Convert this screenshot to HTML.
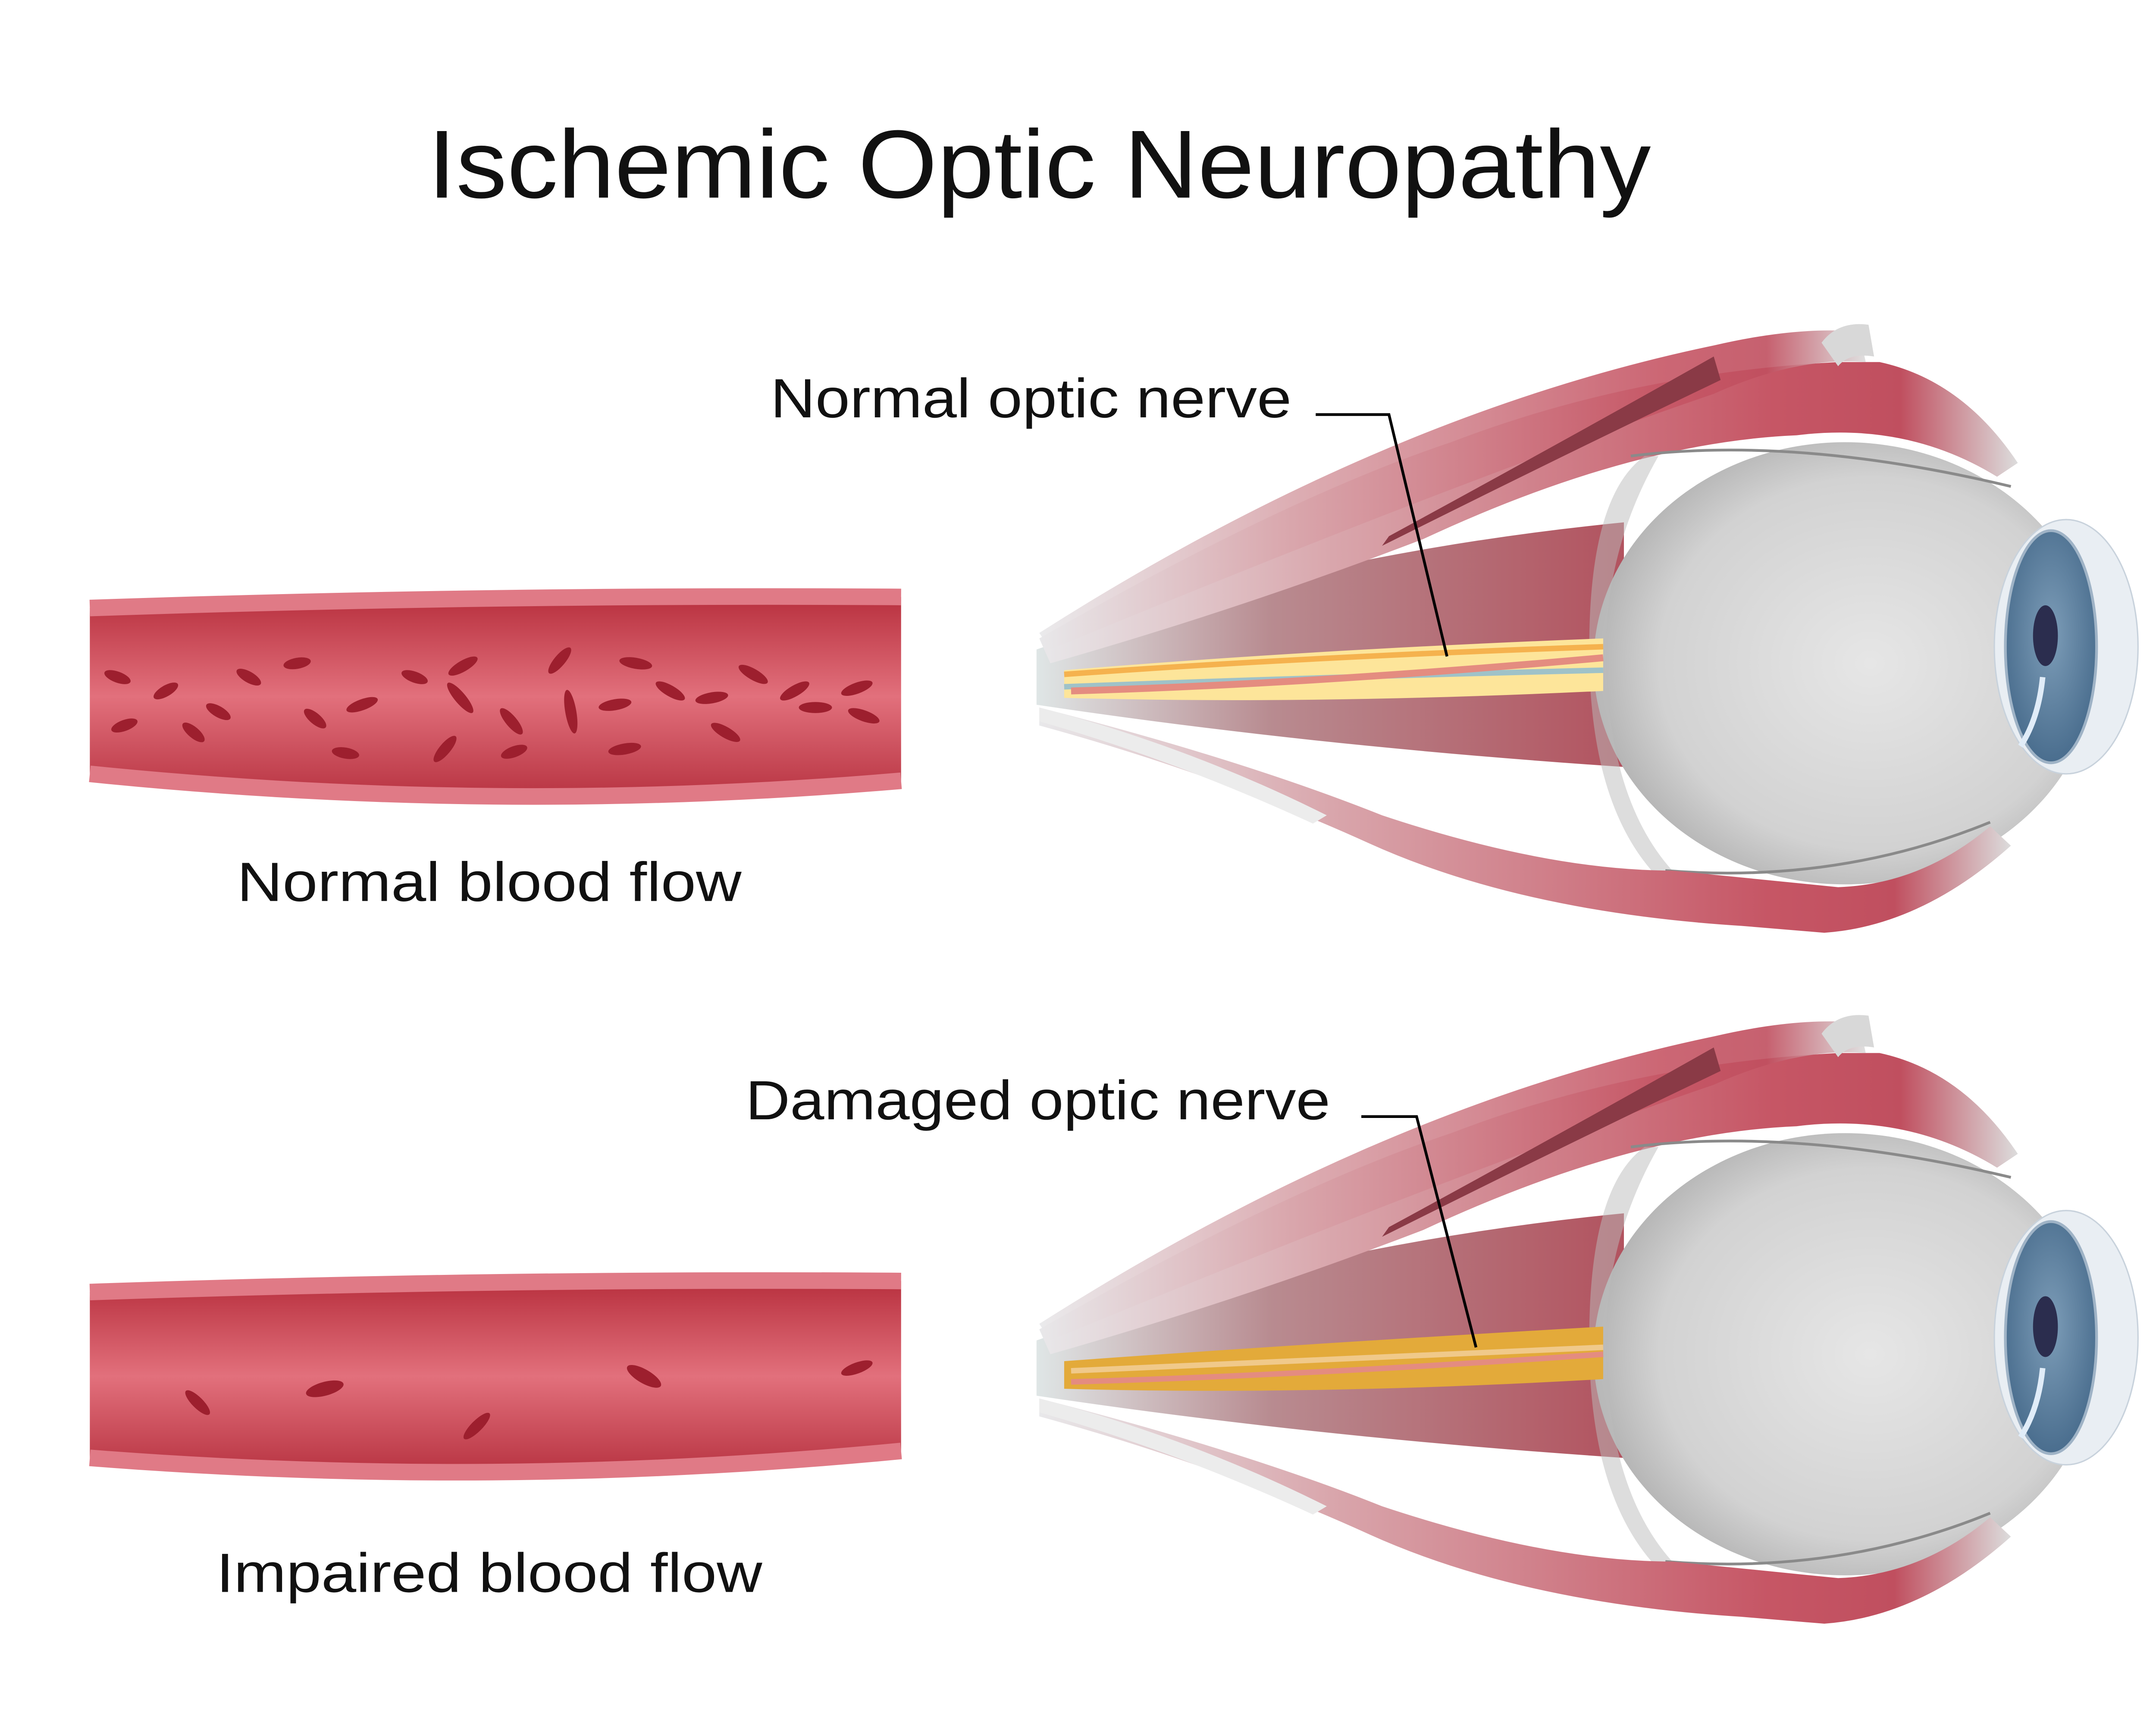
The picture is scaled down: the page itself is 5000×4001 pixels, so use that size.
<!DOCTYPE html>
<html><head><meta charset="utf-8"><style>
html,body{margin:0;padding:0;background:#fff;}
svg{display:block;}
text{font-family:"Liberation Sans",sans-serif;fill:#111;}
</style></head><body>
<svg width="5000" height="4001" viewBox="0 0 1560 1248.3" preserveAspectRatio="none" xmlns="http://www.w3.org/2000/svg">
<defs>
<linearGradient id="vessel" x1="0" y1="0" x2="0" y2="1">
<stop offset="0" stop-color="#b8303e"/><stop offset="0.5" stop-color="#e2707c"/><stop offset="1" stop-color="#b83442"/>
</linearGradient>
<radialGradient id="globe" cx="0.55" cy="0.5" r="0.6">
<stop offset="0" stop-color="#e6e6e6"/><stop offset="0.7" stop-color="#d2d2d2"/><stop offset="1" stop-color="#a9a9a9"/>
</radialGradient>
<linearGradient id="musc" x1="0" y1="0" x2="1" y2="0">
<stop offset="0" stop-color="#e8e8ea"/><stop offset="0.3" stop-color="#d9a6ac"/><stop offset="0.75" stop-color="#c65665"/><stop offset="0.88" stop-color="#c04f5f"/><stop offset="1" stop-color="#dcdcdc"/>
</linearGradient>
<linearGradient id="mid" x1="0" y1="0" x2="1" y2="0">
<stop offset="0" stop-color="#dfe6e6"/><stop offset="0.4" stop-color="#b88b90"/><stop offset="1" stop-color="#b2535f"/>
</linearGradient>
<radialGradient id="iris" cx="0.5" cy="0.45" r="0.6">
<stop offset="0" stop-color="#7d9db8"/><stop offset="1" stop-color="#45698a"/>
</radialGradient>
<g id="eye">
<!-- middle muscles -->
<path d="M750,470 Q950,400 1175,378 L1175,555 Q950,540 750,510 Z" fill="url(#mid)"/>
<!-- top muscle -->
<path d="M752,462 Q930,360 1050,320 Q1180,270 1330,262 L1360,262 Q1420,275 1460,335 L1445,345 Q1380,305 1300,315 Q1180,320 1030,390 Q900,440 760,480 Z" fill="url(#musc)"/>
<path d="M752,458 Q1000,300 1240,250 Q1300,236 1345,240 L1350,262 Q1300,258 1240,285 Q1050,350 760,470 Z" fill="url(#musc)" opacity="0.9"/>
<path d="M1240,258 L1245,275 Q1130,330 1000,395 L1005,388 Q1130,320 1240,258 Z" fill="#8a3a46"/>
<path d="M1318,248 Q1330,232 1352,235 L1356,258 Q1338,255 1330,265 Z" fill="#d8d8d8"/>
<!-- globe -->
<ellipse cx="1335" cy="480" rx="182" ry="160" fill="url(#globe)"/>
<path d="M1150,480 Q1148,360 1190,330 L1200,330 Q1160,400 1162,480 Q1165,580 1210,630 L1195,630 Q1152,580 1150,480 Z" fill="#bcbcbc" opacity="0.5"/>
<path d="M1180,330 Q1300,315 1455,352" stroke="#8a8a8a" stroke-width="2" fill="none"/>
<path d="M1205,630 Q1330,640 1440,595" stroke="#8a8a8a" stroke-width="2" fill="none"/>
<!-- bottom muscle -->
<path d="M752,512 Q900,550 1000,590 Q1120,630 1210,630 L1330,642 Q1390,640 1440,598 L1455,612 Q1390,670 1320,675 L1260,670 Q1100,660 990,610 Q880,560 752,525 Z" fill="url(#musc)"/>
<path d="M752,512 Q860,540 960,590 L950,596 Q850,550 752,522 Z" fill="#ececec"/>
<!-- cornea / iris -->
<ellipse cx="1495" cy="468" rx="52" ry="92" fill="#e9eef3" stroke="#c8d2dc"/>
<ellipse cx="1484" cy="468" rx="33" ry="84" fill="url(#iris)" stroke="#9fb3c6" stroke-width="2"/>
<ellipse cx="1480" cy="460" rx="9" ry="22" fill="#2b2d4e"/>
<path d="M1478,490 Q1475,520 1462,540" stroke="#e0ecf8" stroke-width="4" fill="none"/>
</g>
</defs>

<text x="752" y="143" font-size="70" text-anchor="middle" textLength="885" lengthAdjust="spacingAndGlyphs">Ischemic Optic Neuropathy</text>

<!-- vessel 1 -->
<path d="M65,440 Q360,430 652,432 L652,565 Q360,590 65,560 Z" fill="url(#vessel)"/>
<path d="M65,440 Q360,430 652,432" stroke="#e07a86" stroke-width="12" fill="none"/>
<path d="M65,560 Q360,590 652,565" stroke="#e07a86" stroke-width="12" fill="none"/>
<g fill="#9d1f2e">
<ellipse cx="85" cy="490" rx="10" ry="4" transform="rotate(20 85 490)"/>
<ellipse cx="120" cy="500" rx="10" ry="4" transform="rotate(-30 120 500)"/>
<ellipse cx="90" cy="525" rx="10" ry="4" transform="rotate(-20 90 525)"/>
<ellipse cx="140" cy="530" rx="10" ry="4" transform="rotate(40 140 530)"/>
<ellipse cx="180" cy="490" rx="10" ry="4" transform="rotate(30 180 490)"/>
<ellipse cx="158" cy="515" rx="10" ry="4" transform="rotate(30 158 515)"/>
<ellipse cx="215" cy="480" rx="10" ry="4" transform="rotate(-10 215 480)"/>
<ellipse cx="228" cy="520" rx="10" ry="4" transform="rotate(40 228 520)"/>
<ellipse cx="262" cy="510" rx="12" ry="4" transform="rotate(-20 262 510)"/>
<ellipse cx="250" cy="545" rx="10" ry="4" transform="rotate(10 250 545)"/>
<ellipse cx="300" cy="490" rx="10" ry="4" transform="rotate(20 300 490)"/>
<ellipse cx="335" cy="482" rx="12" ry="4" transform="rotate(-30 335 482)"/>
<ellipse cx="333" cy="505" rx="14" ry="4" transform="rotate(50 333 505)"/>
<ellipse cx="322" cy="542" rx="12" ry="4" transform="rotate(-50 322 542)"/>
<ellipse cx="370" cy="522" rx="12" ry="4" transform="rotate(50 370 522)"/>
<ellipse cx="372" cy="544" rx="10" ry="4" transform="rotate(-20 372 544)"/>
<ellipse cx="405" cy="478" rx="12" ry="4" transform="rotate(-50 405 478)"/>
<ellipse cx="413" cy="515" rx="16" ry="4" transform="rotate(80 413 515)"/>
<ellipse cx="445" cy="510" rx="12" ry="4" transform="rotate(-10 445 510)"/>
<ellipse cx="460" cy="480" rx="12" ry="4" transform="rotate(10 460 480)"/>
<ellipse cx="452" cy="542" rx="12" ry="4" transform="rotate(-10 452 542)"/>
<ellipse cx="485" cy="500" rx="12" ry="4" transform="rotate(30 485 500)"/>
<ellipse cx="515" cy="505" rx="12" ry="4" transform="rotate(-10 515 505)"/>
<ellipse cx="525" cy="530" rx="12" ry="4" transform="rotate(30 525 530)"/>
<ellipse cx="545" cy="488" rx="12" ry="4" transform="rotate(30 545 488)"/>
<ellipse cx="575" cy="500" rx="12" ry="4" transform="rotate(-30 575 500)"/>
<ellipse cx="590" cy="512" rx="12" ry="4"/>
<ellipse cx="620" cy="498" rx="12" ry="4" transform="rotate(-20 620 498)"/>
<ellipse cx="625" cy="518" rx="12" ry="4" transform="rotate(20 625 518)"/>
</g>
<text x="354" y="652" font-size="40" text-anchor="middle" textLength="365" lengthAdjust="spacingAndGlyphs">Normal blood flow</text>

<!-- vessel 2 -->
<path d="M65,935 Q360,925 652,927 L652,1050 Q360,1078 65,1055 Z" fill="url(#vessel)"/>
<path d="M65,935 Q360,925 652,927" stroke="#e07a86" stroke-width="12" fill="none"/>
<path d="M65,1055 Q360,1078 652,1050" stroke="#e07a86" stroke-width="12" fill="none"/>
<g fill="#9d1f2e">
<ellipse cx="143" cy="1015" rx="12" ry="4" transform="rotate(45 143 1015)"/>
<ellipse cx="235" cy="1005" rx="14" ry="5" transform="rotate(-15 235 1005)"/>
<ellipse cx="345" cy="1032" rx="13" ry="4" transform="rotate(-45 345 1032)"/>
<ellipse cx="466" cy="996" rx="14" ry="5" transform="rotate(30 466 996)"/>
<ellipse cx="620" cy="990" rx="12" ry="4" transform="rotate(-20 620 990)"/>
</g>
<text x="354" y="1152" font-size="40" text-anchor="middle" textLength="395" lengthAdjust="spacingAndGlyphs">Impaired blood flow</text>

<!-- eye 1 -->
<use href="#eye"/>
<path d="M770,485 Q950,470 1160,462 L1160,500 Q950,510 770,505 Z" fill="#fde59a"/>
<path d="M770,488 Q950,475 1160,468" stroke="#f5b24e" stroke-width="4" fill="none"/>
<path d="M770,497 Q950,490 1160,485" stroke="#9fc2c8" stroke-width="4" fill="none"/>
<path d="M775,500 Q950,495 1160,476" stroke="#e48c80" stroke-width="5" fill="none"/>
<text x="746" y="302" font-size="40" text-anchor="middle" textLength="377" lengthAdjust="spacingAndGlyphs">Normal optic nerve</text>
<polyline points="952,300 1005,300 1047,475" fill="none" stroke="#000" stroke-width="2"/>

<!-- eye 2 -->
<g transform="translate(0,500)"><use href="#eye"/></g>
<path d="M770,985 Q950,972 1160,960 L1160,998 Q950,1010 770,1005 Z" fill="#e3aa3a"/>
<path d="M775,992 Q950,985 1160,975" stroke="#f0c98a" stroke-width="4" fill="none"/>
<path d="M775,1000 Q950,995 1160,980" stroke="#e48c80" stroke-width="4" fill="none"/>
<text x="751" y="810" font-size="40" text-anchor="middle" textLength="423" lengthAdjust="spacingAndGlyphs">Damaged optic nerve</text>
<polyline points="985,808 1025,808 1068,975" fill="none" stroke="#000" stroke-width="2"/>
</svg>
</body></html>
